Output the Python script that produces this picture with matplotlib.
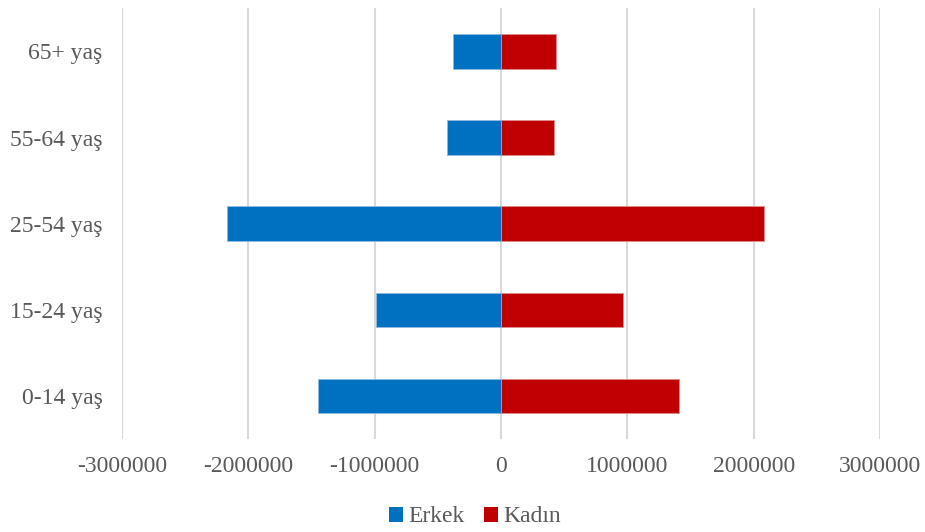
import matplotlib
matplotlib.use("Agg")
import matplotlib.pyplot as plt
from matplotlib.patches import Patch
from matplotlib.ticker import FuncFormatter

# Age groups (bottom to top) and population by sex
age_groups = ["0-14 yaş", "15-24 yaş", "25-54 yaş", "55-64 yaş", "65+ yaş"]
erkek = [1446000, 989000, 2168000, 430000, 379000]
kadin = [1409000, 963000, 2084000, 419000, 437000]
x_ticks = [-3000000, -2000000, -1000000, 0, 1000000, 2000000, 3000000]

BLUE = "#0070C0"
RED = "#C00000"
TEXT = "#595959"
GRID = "#D9D9D9"

plt.rcParams["font.family"] = ["Liberation Serif", "DejaVu Serif"]

fig = plt.figure(figsize=(9.25, 5.32), dpi=100)
ax = fig.add_axes([122 / 925, 1 - 439 / 532, (880 - 122) / 925, (439 - 8.3) / 532])

pos = list(range(len(age_groups)))
ax.barh(pos, [-v for v in erkek], height=0.4, color=BLUE,
        edgecolor="#8DBBE0", linewidth=0.6, zorder=3)
ax.barh(pos, kadin, height=0.4, color=RED,
        edgecolor="#E08A8A", linewidth=0.6, zorder=3)

ax.set_xlim(-3000000, 3000000)
ax.set_ylim(-0.5, len(age_groups) - 0.5)
ax.set_xticks(x_ticks)
ax.xaxis.set_major_formatter(FuncFormatter(lambda v, _: f"{int(round(v))}"))
ax.set_yticks(pos)
ax.set_yticklabels(age_groups)

ax.grid(axis="x", color=GRID, linewidth=1.5, zorder=0)
ax.set_axisbelow(True)
for s in ax.spines.values():
    s.set_visible(False)

ax.tick_params(axis="x", length=0, pad=12, labelsize=17, labelcolor=TEXT)
ax.tick_params(axis="y", length=0, pad=14, labelsize=17, labelcolor=TEXT)

handles = [Patch(facecolor=BLUE, edgecolor="none", label="Erkek"),
           Patch(facecolor=RED, edgecolor="none", label="Kadın")]
fig.legend(handles=handles, loc="center", bbox_to_anchor=(475 / 925, 1 - 517 / 532),
           ncol=2, frameon=False, fontsize=17, labelcolor=TEXT,
           handlelength=0.6, handleheight=0.6, handletextpad=0.25,
           columnspacing=0.8, borderpad=0, borderaxespad=0)

fig.savefig("out.png", dpi=100, facecolor="white")
